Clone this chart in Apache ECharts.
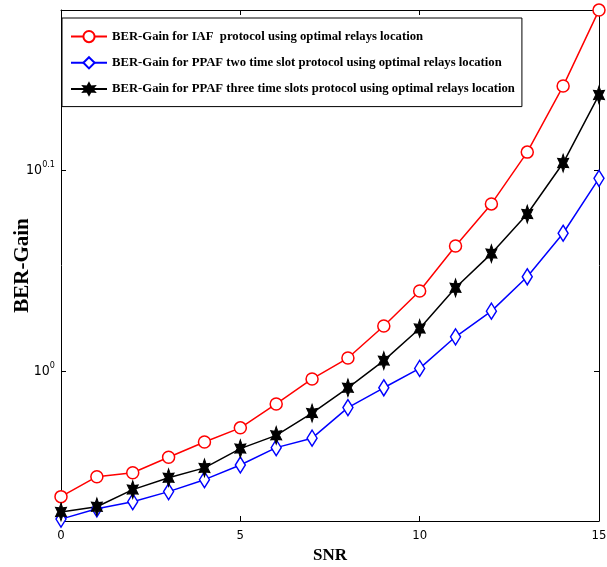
<!DOCTYPE html>
<html>
<head>
<meta charset="utf-8">
<script src="https://cdn.jsdelivr.net/npm/echarts@6/dist/echarts.min.js"></script>
<style>
  html, body { margin: 0; padding: 0; background: #fff; }
  #chart { width: 607px; height: 567px; }
</style>
</head>
<body>
<div id="chart"></div>
<script>
// SNR values (x axis)
const snr = [0, 1, 2, 3, 4, 5, 6, 7, 8, 9, 10, 11, 12, 13, 14, 15];

// BER gain (linear values, drawn on a log10 axis)
const iafGain = [0.866, 0.886, 0.890, 0.906, 0.922, 0.937, 0.963, 0.991,
  1.015, 1.053, 1.096, 1.154, 1.211, 1.285, 1.386, 1.512];
const ppafTwoGain = [0.844, 0.854, 0.861, 0.871, 0.883, 0.898, 0.916, 0.926,
  0.959, 0.981, 1.003, 1.040, 1.071, 1.114, 1.171, 1.247];
const ppafThreeGain = [0.851, 0.856, 0.873, 0.885, 0.895, 0.915, 0.929, 0.953,
  0.981, 1.012, 1.050, 1.100, 1.144, 1.197, 1.269, 1.372];

// y tick labels are 10^0 and 10^0.1
const yTickExps = [0, 0.1];

const names = [
  'BER-Gain for IAF  protocol using optimal relays location',
  'BER-Gain for PPAF two time slot protocol using optimal relays location',
  'BER-Gain for PPAF three time slots protocol using optimal relays location'
];

const starPath = 'path://M0,-10L2.6,-4.5L8.66,-5L5.2,0L8.66,5L2.6,4.5L0,10L-2.6,4.5L-8.66,5L-5.2,0L-8.66,-5L-2.6,-4.5Z';

function logData(arr) {
  return arr.map((v, i) => [snr[i], Math.log10(v)]);
}

const chart = echarts.init(document.getElementById('chart'));

const tickStyle = { show: true, inside: true, length: 5, lineStyle: { color: '#000', width: 1 } };
const labelFont = 'DejaVu Sans Condensed';

const option = {
  animation: false,
  backgroundColor: '#fff',
  grid: { left: 61, right: 8, top: 10, bottom: 46, show: false, outerBoundsMode: 'none', containLabel: false },
  legend: {
    left: 62,
    top: 18,
    orient: 'vertical',
    backgroundColor: '#fff',
    borderColor: '#000',
    borderWidth: 1,
    borderRadius: 0,
    padding: [12, 7, 11, 8],
    itemGap: 13,
    itemWidth: 36,
    itemHeight: 14,
    textStyle: {
      fontFamily: 'Liberation Serif',
      fontWeight: 'bold',
      fontSize: 12.7,
      color: '#000'
    },
    data: names
  },
  xAxis: [{
    type: 'value',
    min: 0,
    max: 15,
    interval: 5,
    name: 'SNR',
    nameLocation: 'middle',
    nameGap: 26,
    nameTextStyle: { fontFamily: 'Liberation Serif', fontWeight: 'bold', fontSize: 17, color: '#000' },
    axisLine: { show: true, onZero: false, lineStyle: { color: '#000', width: 1 } },
    axisTick: tickStyle,
    splitLine: { show: false },
    axisLabel: { fontFamily: labelFont, fontSize: 13, color: '#000', margin: 8 }
  }, {
    type: 'value',
    position: 'top',
    min: 0,
    max: 15,
    interval: 5,
    axisLine: { show: true, onZero: false, lineStyle: { color: '#000', width: 1 } },
    axisTick: tickStyle,
    axisLabel: { show: false },
    splitLine: { show: false }
  }],
  yAxis: [{
    type: 'value',
    min: -0.0746,
    max: 0.1796,
    name: 'BER-Gain',
    nameLocation: 'middle',
    nameGap: 28,
    nameMoveOverlap: false,
    nameRotate: 90,
    nameTextStyle: { fontFamily: 'Liberation Serif', fontWeight: 'bold', fontSize: 21, color: '#000' },
    axisLine: { show: true, onZero: false, lineStyle: { color: '#000', width: 1 } },
    axisTick: Object.assign({ customValues: yTickExps }, tickStyle),
    splitLine: { show: false },
    axisLabel: {
      customValues: yTickExps,
      margin: 6,
      formatter: v => '{b|10}{s|' + (Math.round(v * 10) / 10) + '}',
      rich: {
        b: { fontFamily: labelFont, fontSize: 14, color: '#000' },
        s: { fontFamily: labelFont, fontSize: 9, color: '#000', padding: [0, 0, 10, 0] }
      }
    }
  }, {
    type: 'value',
    position: 'right',
    min: -0.0746,
    max: 0.1796,
    axisLine: { show: true, onZero: false, lineStyle: { color: '#000', width: 1 } },
    axisTick: Object.assign({ customValues: yTickExps }, tickStyle),
    axisLabel: { show: false },
    splitLine: { show: false }
  }],
  series: [{
    name: names[0],
    type: 'line',
    data: logData(iafGain),
    symbol: 'circle',
    symbolSize: 12,
    color: '#ff0000',
    lineStyle: { color: '#ff0000', width: 1.5 },
    itemStyle: { color: '#fff', borderColor: '#ff0000', borderWidth: 1.5 }
  }, {
    name: names[1],
    type: 'line',
    data: logData(ppafTwoGain),
    symbol: 'diamond',
    symbolSize: [10, 16],
    color: '#0000ff',
    lineStyle: { color: '#0000ff', width: 1.5 },
    itemStyle: { color: '#fff', borderColor: '#0000ff', borderWidth: 1.5 }
  }, {
    name: names[2],
    type: 'line',
    data: logData(ppafThreeGain),
    symbol: starPath,
    symbolSize: [11, 18],
    color: '#000',
    lineStyle: { color: '#000', width: 1.5 },
    itemStyle: { color: '#000', borderColor: '#000', borderWidth: 1 }
  }]
};

chart.setOption(option);
</script>
</body>
</html>
